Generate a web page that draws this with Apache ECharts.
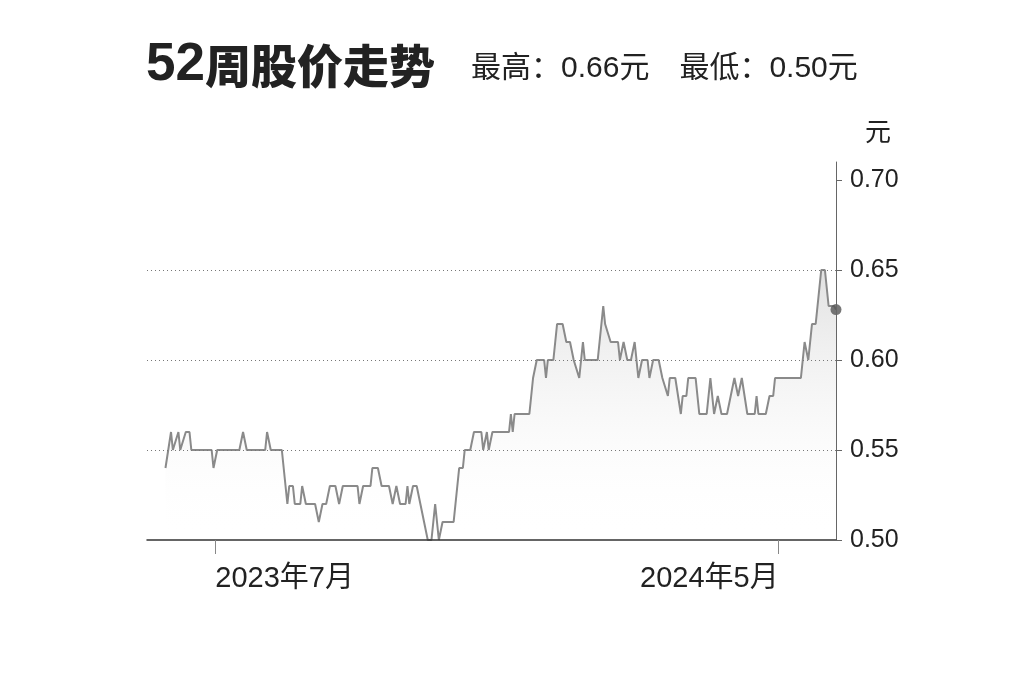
<!DOCTYPE html>
<html>
<head>
<meta charset="utf-8">
<script src="https://cdn.jsdelivr.net/npm/echarts@6/dist/echarts.min.js"></script>
<style>
  html, body { margin: 0; padding: 0; background: #fff; }
  #main { width: 1024px; height: 682px; }
</style>
</head>
<body>
<div id="main"></div>
<script>
// 52 周价格走势（读图估计的转折点）
const dates = [
    '2023-06-04', '2023-06-07', '2023-06-08', '2023-06-11', '2023-06-12', '2023-06-15', '2023-06-17', '2023-06-18',
    '2023-06-29', '2023-06-30', '2023-07-02', '2023-07-14', '2023-07-16', '2023-07-18', '2023-07-28', '2023-07-29',
    '2023-07-31', '2023-08-06', '2023-08-09', '2023-08-10', '2023-08-12', '2023-08-13', '2023-08-16', '2023-08-17',
    '2023-08-19', '2023-08-24', '2023-08-26', '2023-08-28', '2023-08-30', '2023-09-01', '2023-09-04', '2023-09-06',
    '2023-09-08', '2023-09-16', '2023-09-17', '2023-09-19', '2023-09-23', '2023-09-24', '2023-09-27', '2023-09-29',
    '2023-10-03', '2023-10-05', '2023-10-07', '2023-10-09', '2023-10-12', '2023-10-13', '2023-10-14', '2023-10-16',
    '2023-10-18', '2023-10-20', '2023-10-22', '2023-10-24', '2023-10-26', '2023-10-28', '2023-10-30', '2023-11-01',
    '2023-11-07', '2023-11-10', '2023-11-12', '2023-11-13', '2023-11-16', '2023-11-18', '2023-11-22', '2023-11-23',
    '2023-11-25', '2023-11-26', '2023-11-28', '2023-12-07', '2023-12-08', '2023-12-09', '2023-12-10', '2023-12-18',
    '2023-12-20', '2023-12-22', '2023-12-26', '2023-12-27', '2023-12-28', '2023-12-31', '2024-01-02', '2024-01-05',
    '2024-01-07', '2024-01-09', '2024-01-11', '2024-01-14', '2024-01-16', '2024-01-17', '2024-01-24', '2024-01-27',
    '2024-01-28', '2024-01-31', '2024-02-04', '2024-02-05', '2024-02-07', '2024-02-09', '2024-02-11', '2024-02-13',
    '2024-02-15', '2024-02-17', '2024-02-20', '2024-02-21', '2024-02-23', '2024-02-26', '2024-02-28', '2024-03-02',
    '2024-03-03', '2024-03-06', '2024-03-09', '2024-03-10', '2024-03-12', '2024-03-13', '2024-03-17', '2024-03-19',
    '2024-03-23', '2024-03-25', '2024-03-27', '2024-03-29', '2024-03-31', '2024-04-03', '2024-04-07', '2024-04-09',
    '2024-04-11', '2024-04-14', '2024-04-18', '2024-04-19', '2024-04-20', '2024-04-24', '2024-04-26', '2024-04-28',
    '2024-04-29', '2024-05-13', '2024-05-15', '2024-05-17', '2024-05-19', '2024-05-21', '2024-05-24', '2024-05-26',
    '2024-05-28', '2024-05-31', '2024-06-01'
];
const prices = [
    0.54, 0.56, 0.55, 0.56, 0.55, 0.56, 0.56, 0.55,
    0.55, 0.54, 0.55, 0.55, 0.56, 0.55, 0.55, 0.56,
    0.55, 0.55, 0.52, 0.53, 0.53, 0.52, 0.52, 0.53,
    0.52, 0.52, 0.51, 0.52, 0.52, 0.53, 0.53, 0.52,
    0.53, 0.53, 0.52, 0.53, 0.53, 0.54, 0.54, 0.53,
    0.53, 0.52, 0.53, 0.52, 0.52, 0.53, 0.52, 0.53,
    0.53, 0.52, 0.51, 0.50, 0.50, 0.52, 0.50, 0.51,
    0.51, 0.54, 0.54, 0.55, 0.55, 0.56, 0.56, 0.55,
    0.56, 0.55, 0.56, 0.56, 0.57, 0.56, 0.57, 0.57,
    0.59, 0.60, 0.60, 0.59, 0.60, 0.60, 0.62, 0.62,
    0.61, 0.61, 0.60, 0.59, 0.61, 0.60, 0.60, 0.63,
    0.62, 0.61, 0.61, 0.60, 0.61, 0.60, 0.60, 0.61,
    0.59, 0.60, 0.60, 0.59, 0.60, 0.60, 0.59, 0.58,
    0.59, 0.59, 0.57, 0.58, 0.58, 0.59, 0.59, 0.57,
    0.57, 0.59, 0.57, 0.58, 0.57, 0.57, 0.59, 0.58,
    0.59, 0.57, 0.57, 0.58, 0.57, 0.57, 0.58, 0.58,
    0.59, 0.59, 0.61, 0.60, 0.62, 0.62, 0.65, 0.65,
    0.63, 0.63, 0.628
];
const yTicks = [0.50, 0.55, 0.60, 0.65, 0.70];
const xTickDates = ['2023-07-01', '2024-05-01'];
const axisStart = '2023-05-25';
const axisEnd = '2024-06-01';

const FONT = '"Liberation Sans", "Noto Sans CJK SC", sans-serif';
const chart = echarts.init(document.getElementById('main'));

const ts = (d) => echarts.time.parse(d).getTime();
const seriesData = dates.map((d, i) => [ts(d), prices[i]]);
const last = seriesData[seriesData.length - 1];
const monthLabel = (v) => {
    const d = new Date(v);
    return d.getFullYear() + '年' + (d.getMonth() + 1) + '月';
};

// 两条 x 轴叠在一起：一条标签左对齐，一条右对齐
const xBase = {
    type: 'value',
    min: ts(axisStart),
    max: ts(axisEnd),
    position: 'bottom',
    z: 10,
    splitLine: { show: false }
};

chart.setOption({
    backgroundColor: '#fff',
    animation: false,
    title: [{
        left: 141, top: 34,
        text: '{n|52}{c|周股价走势}',
        textStyle: {
            rich: {
                n: { fontSize: 53, fontWeight: 'bold', fontFamily: FONT, color: '#222' },
                c: { fontSize: 46, fontWeight: 900, fontFamily: '"Noto Sans CJK SC", sans-serif', color: '#222' }
            }
        }
    }, {
        left: 466, top: 49,
        text: '最高：0.66元　最低：0.50元',
        textStyle: { fontSize: 30, fontWeight: 'normal', fontFamily: FONT, color: '#222' }
    }],
    grid: { left: 147, right: 188, top: 162, bottom: 142 },
    xAxis: [Object.assign({}, xBase, {
        axisLine: { lineStyle: { color: '#333', width: 1.5 } },
        axisTick: { length: 14, lineStyle: { color: '#888' }, customValues: [ts(xTickDates[0])] },
        axisLabel: {
            customValues: [ts(xTickDates[0])], formatter: monthLabel, align: 'left', margin: 24,
            fontSize: 29, color: '#222', fontFamily: FONT
        }
    }), Object.assign({}, xBase, {
        axisLine: { show: false },
        axisTick: { length: 14, lineStyle: { color: '#888' }, customValues: [ts(xTickDates[1])] },
        axisLabel: {
            customValues: [ts(xTickDates[1])], formatter: monthLabel, align: 'right', margin: 24,
            fontSize: 29, color: '#222', fontFamily: FONT
        }
    })],
    yAxis: {
        type: 'value',
        position: 'right',
        min: 0.5, max: 0.71, interval: 0.05,
        z: 10,
        name: '元',
        nameLocation: 'end',
        nameGap: 28,
        nameTextStyle: {
            fontSize: 26, color: '#222', fontFamily: FONT,
            align: 'left', verticalAlign: 'middle', padding: [0, 0, 0, 29]
        },
        axisLine: { show: true, lineStyle: { color: '#666', width: 1 } },
        axisTick: { show: true, length: 6, lineStyle: { color: '#666' }, customValues: yTicks },
        axisLabel: {
            customValues: yTicks, margin: 14, fontSize: 25, color: '#222', fontFamily: FONT,
            formatter: (v) => v.toFixed(2)
        },
        splitLine: {
            show: true, showMinLine: false, showMaxLine: false,
            lineStyle: { type: [1, 3], color: '#777', width: 1 }
        }
    },
    series: [{
        type: 'line',
        xAxisIndex: 0,
        data: seriesData,
        symbol: 'none',
        lineStyle: { color: '#8a8a8a', width: 2 },
        areaStyle: {
            color: new echarts.graphic.LinearGradient(0, 0, 0, 1, [
                { offset: 0, color: '#d4d4d4' },
                { offset: 1, color: 'rgba(255,255,255,0)' }
            ])
        },
        z: 2
    }, {
        type: 'scatter',
        xAxisIndex: 0,
        data: [last],
        symbolSize: 11,
        itemStyle: { color: '#555' },
        z: 3
    }]
});
</script>
</body>
</html>
